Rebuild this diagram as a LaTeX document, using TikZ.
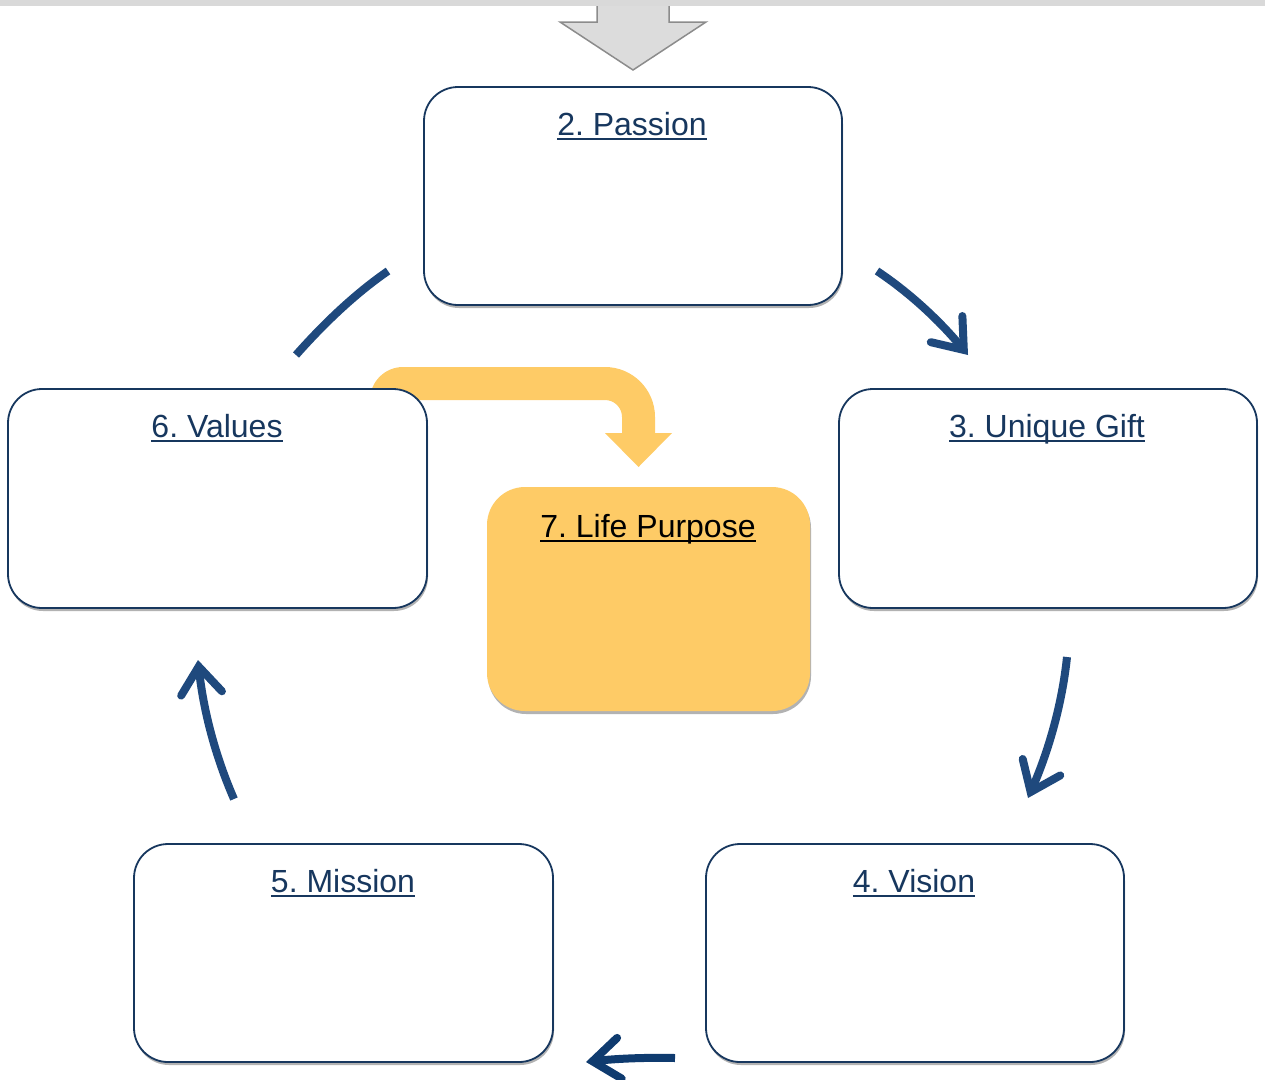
\documentclass[tikz,border=0pt]{standalone}
\usepackage{fontspec}
\setmainfont{Liberation Sans}
\usetikzlibrary{arrows.meta,shadows,calc}
\definecolor{navy}{HTML}{17375E}
\definecolor{arrowblue}{HTML}{1F497D}
\definecolor{darkarrow}{HTML}{0F3B6F}
\definecolor{gold}{HTML}{FECB66}
\definecolor{bargray}{HTML}{D9D9D9}
\definecolor{arrowgray}{HTML}{DCDCDC}
\definecolor{edgegray}{HTML}{8C8C8C}
\frenchspacing
\tikzset{
  stagebox/.style={draw=navy, line width=1.8pt, fill=white, rounded corners=34pt,
    inner sep=0pt, outer sep=0pt,
    drop shadow={shadow xshift=1pt, shadow yshift=-3pt, fill=black, opacity=0.3}},
  goalbox/.style={fill=gold, rounded corners=38pt, inner sep=0pt, outer sep=0pt,
    drop shadow={shadow xshift=1pt, shadow yshift=-3pt, fill=black, opacity=0.3}},
  stagetitle/.style={anchor=base, inner sep=0pt, outer sep=0pt, text=navy,
    font=\fontsize{32}{38}\selectfont},
  flow/.style={draw=arrowblue, line width=8pt,
    -{Straight Barb[length=27pt,width=41pt,line cap=round,line join=miter]}},
  flowplain/.style={draw=arrowblue, line width=8pt},
}
\newcommand{\ulinebelow}[2]{\draw[#2, line width=1.6pt] ($(#1.base west)+(0,4)$) -- ($(#1.base east)+(0,4)$);}
\begin{document}
\begin{tikzpicture}[x=1pt,y=-1pt]
\useasboundingbox (0,0) rectangle (1265,1079);
% top gray arrow and bar
\draw[fill=arrowgray, draw=edgegray, line width=1.5pt, line join=miter]
  (597,-2) -- (597,22) -- (560,22) -- (633,70) -- (706,22) -- (669,22) -- (669,-2);
\fill[bargray] (0,0) rectangle (1265,6);
% yellow bent arrow
\fill[gold] (370,400) -- (605,400) .. controls (614.4,400) and (622,407.6) .. (622,417)
  -- (622,433) -- (605,433) -- (638.5,467) -- (672,433) -- (655,433) -- (655,417)
  .. controls (655,389.4) and (632.6,367) .. (605,367) -- (403,367)
  .. controls (384.8,367) and (370,381.8) .. (370,400) -- cycle;
% boxes
\node[stagebox, minimum width=418pt, minimum height=218pt] (passion) at (633,196) {};
\node[stagebox, minimum width=419pt, minimum height=219pt] (values) at (217.5,498.5) {};
\node[stagebox, minimum width=418pt, minimum height=219pt] (gift) at (1048,498.5) {};
\node[stagebox, minimum width=419pt, minimum height=218pt] (mission) at (343.5,953) {};
\node[stagebox, minimum width=418pt, minimum height=218pt] (vision) at (915,953) {};
\node[goalbox, minimum width=323pt, minimum height=224pt] (life) at (648.5,599) {};
% titles
\node[stagetitle] (tpassion) at (632,135) {2. Passion};
\node[stagetitle] (tvalues) at (217,437) {6. Values};
\node[stagetitle] (tgift) at (1047,437) {3. Unique Gift};
\node[stagetitle] (tmission) at (343,892) {5. Mission};
\node[stagetitle] (tvision) at (914,892) {4. Vision};
\node[stagetitle, text=black] (tlife) at (648,537) {7. Life Purpose};
\ulinebelow{tpassion}{navy}
\ulinebelow{tvalues}{navy}
\ulinebelow{tgift}{navy}
\ulinebelow{tmission}{navy}
\ulinebelow{tvision}{navy}
\ulinebelow{tlife}{black}
% cycle arrows
\coordinate (a1s) at (877,271);
\coordinate (a1e) at (968,355);
\draw[flow] (a1s) .. controls (909,292.3) and (939.3,320.3) .. (a1e);
\coordinate (a2s) at (1067,657);
\coordinate (a2e) at (1028,798);
\draw[flow] (a2s) .. controls (1062.3,702.3) and (1049.3,749.3) .. (a2e);
\coordinate (a3s) at (675,1058);
\coordinate (a3e) at (586,1062);
\draw[flow, draw=darkarrow] (a3s) .. controls (645,1057.3) and (615.3,1058.7) .. (a3e);
\coordinate (a4s) at (234,799);
\coordinate (a4e) at (198,660);
\draw[flow] (a4s) .. controls (215.3,756.3) and (203.3,710) .. (a4e);
\coordinate (a5s) at (388,271);
\coordinate (a5e) at (296,355);
\draw[flowplain] (a5s) .. controls (358,291.7) and (327.3,319.7) .. (a5e);
\end{tikzpicture}
\end{document}
